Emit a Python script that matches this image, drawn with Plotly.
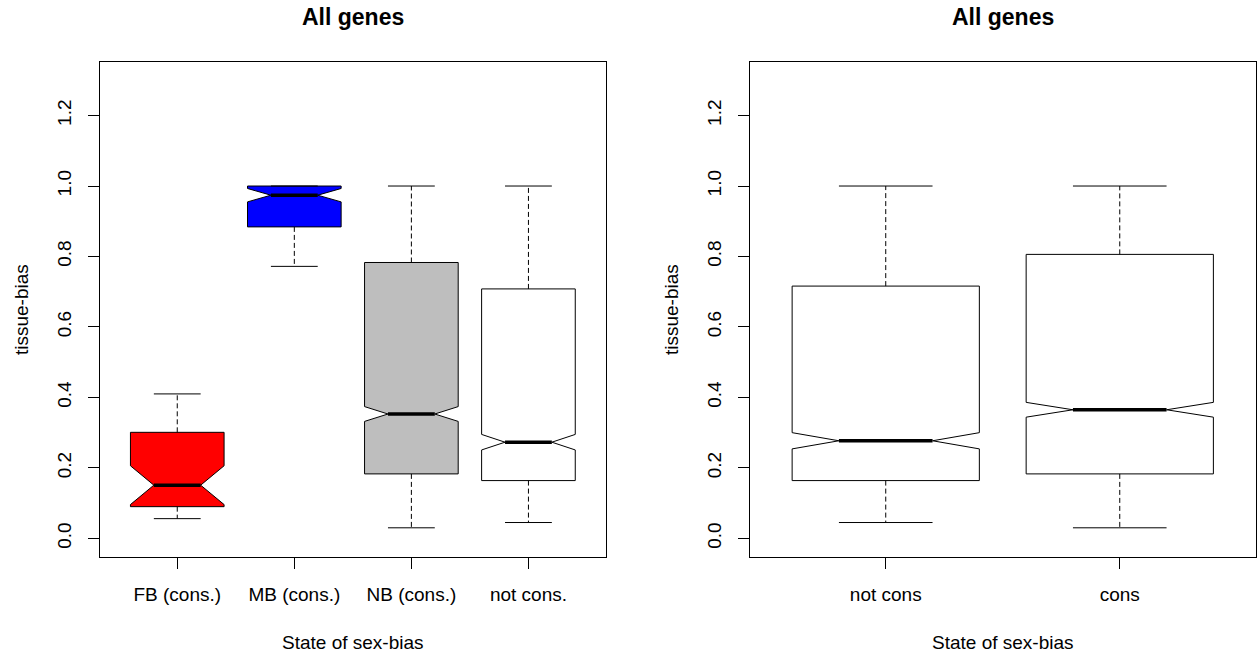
import plotly.graph_objects as go

W, H = 1257, 657
FONT = "Liberation Sans, Arial, Helvetica, sans-serif"

# ---- Left panel: sex-bias state groups ----
left_categories = ["FB (cons.)", "MB (cons.)", "NB (cons.)", "not cons."]
left_lower = [0.056, 0.772, 0.030, 0.045]
left_q1 = [0.090, 0.884, 0.183, 0.164]
left_median = [0.151, 0.974, 0.353, 0.273]
left_q3 = [0.301, 1.000, 0.783, 0.708]
left_upper = [0.410, 1.000, 1.000, 1.000]
left_notch = [0.055, 0.019, 0.021, 0.022]   # half-width of the notch (median CI)
left_fill = ["#FF0000", "#0000FF", "#BEBEBE", "#FFFFFF"]

# ---- Right panel: conserved vs not conserved ----
right_categories = ["not cons", "cons"]
right_lower = [0.045, 0.030]
right_q1 = [0.164, 0.183]
right_median = [0.277, 0.365]
right_q3 = [0.716, 0.806]
right_upper = [1.000, 1.000]
right_notch = [0.023, 0.021]
right_fill = ["#FFFFFF", "#FFFFFF"]

y_ticks = [0.0, 0.2, 0.4, 0.6, 0.8, 1.0, 1.2]
y_ticktext = ["0.0", "0.2", "0.4", "0.6", "0.8", "1.0", "1.2"]

panel_title = "All genes"
x_title = "State of sex-bias"
y_title = "tissue-bias"

BOX_HALF = 0.4     # boxwex 0.8
NOTCH_HALF = 0.2   # notch.frac 0.5
CAP_HALF = 0.2     # staple width

fig = go.Figure()


def add_panel(cats, lower, q1, med, q3, upper, notch, fills, xa, ya):
    whisk_x, whisk_y, cap_x, cap_y, med_x, med_y = [], [], [], [], [], []
    for i in range(len(cats)):
        x = i + 1
        nlo, nhi = med[i] - notch[i], med[i] + notch[i]
        xs = [x - BOX_HALF, x + BOX_HALF, x + BOX_HALF, x + NOTCH_HALF, x + BOX_HALF,
              x + BOX_HALF, x - BOX_HALF, x - BOX_HALF, x - NOTCH_HALF, x - BOX_HALF,
              x - BOX_HALF]
        ys = [q1[i], q1[i], nlo, med[i], nhi, q3[i], q3[i], nhi, med[i], nlo, q1[i]]
        fig.add_trace(go.Scatter(
            x=xs, y=ys, mode="lines", fill="toself", fillcolor=fills[i],
            line=dict(color="black", width=1), xaxis=xa, yaxis=ya,
            hoverinfo="skip", showlegend=False))
        whisk_x += [x, x, None, x, x, None]
        whisk_y += [q3[i], upper[i], None, q1[i], lower[i], None]
        cap_x += [x - CAP_HALF, x + CAP_HALF, None, x - CAP_HALF, x + CAP_HALF, None]
        cap_y += [upper[i], upper[i], None, lower[i], lower[i], None]
        med_x += [x - NOTCH_HALF, x + NOTCH_HALF, None]
        med_y += [med[i], med[i], None]
    fig.add_trace(go.Scatter(
        x=whisk_x, y=whisk_y, mode="lines",
        line=dict(color="black", width=1, dash="5px,3px"),
        xaxis=xa, yaxis=ya, hoverinfo="skip", showlegend=False))
    fig.add_trace(go.Scatter(
        x=cap_x, y=cap_y, mode="lines", line=dict(color="black", width=1),
        xaxis=xa, yaxis=ya, hoverinfo="skip", showlegend=False))
    fig.add_trace(go.Scatter(
        x=med_x, y=med_y, mode="lines", line=dict(color="black", width=3.5),
        xaxis=xa, yaxis=ya, hoverinfo="skip", showlegend=False))


add_panel(left_categories, left_lower, left_q1, left_median, left_q3, left_upper,
          left_notch, left_fill, "x", "y")
add_panel(right_categories, right_lower, right_q1, right_median, right_q3, right_upper,
          right_notch, right_fill, "x2", "y2")

# plot-region placement in pixels
L_X0, L_X1 = 100, 605.7
R_X0, R_X1 = 750, 1255.5
Y_TOP, Y_BOT = 62, 556.7


def px(xp):
    return xp / W


def py(yp):
    return 1 - yp / H


axis_common = dict(
    showline=True, linecolor="black", linewidth=1, mirror=True,
    ticks="outside", ticklen=11, tickwidth=1, tickcolor="black",
    showgrid=False, zeroline=False,
    tickfont=dict(family=FONT, size=19, color="black"),
)

fig.update_layout(
    width=W, height=H,
    margin=dict(l=0, r=0, t=0, b=0),
    paper_bgcolor="white", plot_bgcolor="white",
    showlegend=False,
    xaxis=dict(axis_common, domain=[px(L_X0), px(L_X1)], range=[0.34, 4.66],
               tickvals=list(range(1, len(left_categories) + 1)),
               ticktext=left_categories, ticklabelstandoff=9, anchor="y"),
    yaxis=dict(axis_common, domain=[py(Y_BOT), py(Y_TOP)], range=[-0.052, 1.352],
               tickvals=y_ticks, ticktext=y_ticktext, tickangle=-90,
               ticklabelstandoff=9, anchor="x"),
    xaxis2=dict(axis_common, domain=[px(R_X0), px(R_X1)], range=[0.42, 2.58],
                tickvals=list(range(1, len(right_categories) + 1)),
                ticktext=right_categories, ticklabelstandoff=9, anchor="y2"),
    yaxis2=dict(axis_common, domain=[py(Y_BOT), py(Y_TOP)], range=[-0.052, 1.352],
                tickvals=y_ticks, ticktext=y_ticktext, tickangle=-90,
                ticklabelstandoff=9, anchor="x2"),
)

annotations = []
for x0, x1 in [(L_X0, L_X1), (R_X0, R_X1)]:
    cx = px((x0 + x1) / 2)
    annotations.append(dict(
        text="<b>%s</b>" % panel_title, x=cx, y=py(17), xref="paper", yref="paper",
        xanchor="center", yanchor="middle", showarrow=False,
        font=dict(family=FONT, size=23, color="black")))
    annotations.append(dict(
        text=x_title, x=cx, y=py(642), xref="paper", yref="paper",
        xanchor="center", yanchor="middle", showarrow=False,
        font=dict(family=FONT, size=19, color="black")))
    annotations.append(dict(
        text=y_title, x=px(x0 - 78.3), y=py((Y_TOP + Y_BOT) / 2),
        xref="paper", yref="paper", xanchor="center", yanchor="middle",
        textangle=-90, showarrow=False,
        font=dict(family=FONT, size=19, color="black")))
fig.update_layout(annotations=annotations)

fig.write_html("out.html")
